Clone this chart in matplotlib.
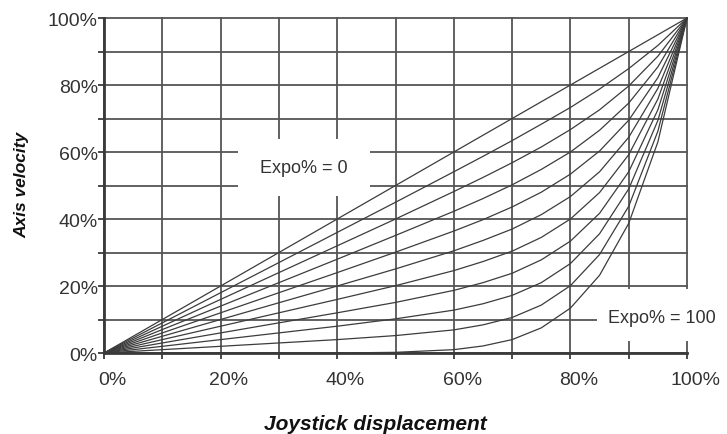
import matplotlib
matplotlib.use('Agg')
import matplotlib.pyplot as plt
import matplotlib.transforms as mtransforms
from matplotlib.patches import Rectangle


# Joystick displacement (%) where each curve was read
displacement = [0, 10, 20, 30, 40, 50, 60, 65, 70, 75, 80, 85, 90, 95, 100]

# Axis velocity (%) for each expo setting
expo_0 = [0, 10, 20, 30, 40, 50, 60, 65, 70, 75, 80, 85, 90, 95, 100]
expo_10 = [0, 9, 18, 27, 36, 45.0, 54.1, 58.7, 63.4, 68.3, 73.3, 78.8, 84.9, 91.8, 100]
expo_20 = [0, 8, 16, 24, 32, 40.0, 48.2, 52.4, 56.8, 61.5, 66.7, 72.6, 79.7, 88.6, 100]
expo_30 = [0, 7, 14, 21, 28, 35.1, 42.3, 46.1, 50.2, 54.8, 60.0, 66.5, 74.6, 85.4, 100]
expo_40 = [0, 6, 12, 18, 24, 30.1, 36.4, 39.8, 43.6, 48.0, 53.4, 60.3, 69.5, 82.2, 100]
expo_50 = [0, 5, 10, 15, 20, 25.1, 30.5, 33.6, 37.0, 41.3, 46.7, 54.1, 64.4, 79.0, 100]
expo_60 = [0, 4, 8, 12, 16, 20.1, 24.6, 27.3, 30.4, 34.5, 40.0, 47.9, 59.2, 75.8, 100]
expo_70 = [0, 3, 6, 9, 12, 15.1, 18.7, 21.0, 23.8, 27.8, 33.4, 41.7, 54.1, 72.6, 100]
expo_80 = [0, 2, 4, 6, 8, 10.2, 12.8, 14.7, 17.2, 21.0, 26.7, 35.6, 49.0, 69.4, 100]
expo_90 = [0, 1, 2, 3, 4, 5.2, 6.9, 8.4, 10.6, 14.3, 20.1, 29.4, 43.8, 66.2, 100]
expo_100 = [0, 0, 0, 0, 0, 0.2, 1.0, 2.1, 4.0, 7.5, 13.4, 23.2, 38.7, 63.0, 100]

curves = [expo_0, expo_10, expo_20, expo_30, expo_40, expo_50,
          expo_60, expo_70, expo_80, expo_90, expo_100]

grid_levels = list(range(0, 101, 10))
tick_labels = ['0%', '', '20%', '', '40%', '', '60%', '', '80%', '', '100%']

GRID_COLOR = '#555555'
CURVE_COLOR = '#3c3c3c'
TEXT_COLOR = '#333333'


def plot(out_path='out.png'):
    plt.rcParams['font.family'] = ['Liberation Sans', 'DejaVu Sans']

    fig = plt.figure(figsize=(7.27, 4.35), dpi=100)
    ax = fig.add_axes([0.1431, 0.1862, 0.945 - 0.1431, 0.9563 - 0.1862])
    ax.set_xlim(0, 100)
    ax.set_ylim(0, 100)

    # grid drawn by hand so the 100% lines show up as the frame
    for v in grid_levels:
        ax.axvline(v, color=GRID_COLOR, lw=1.3, zorder=1, clip_on=False)
        ax.axhline(v, color=GRID_COLOR, lw=1.3, zorder=1, clip_on=False)

    # white patches behind the two annotations
    ax.add_patch(Rectangle((23.0, 46.9), 22.6, 17.0, facecolor='white',
                           edgecolor='none', zorder=2))
    ax.add_patch(Rectangle((84.5, 3.6), 25.0, 15.4, facecolor='white',
                           edgecolor='none', zorder=2, clip_on=False))

    for ys in curves:
        ax.plot(displacement, ys, color=CURVE_COLOR, lw=0.9, zorder=3,
                clip_on=False)

    ax.text(34.2, 55.5, 'Expo% = 0', fontsize=13, color=TEXT_COLOR,
            ha='center', va='center', zorder=4)
    ax.text(86.5, 10.7, 'Expo% = 100', fontsize=13, color=TEXT_COLOR,
            ha='left', va='center', zorder=4, clip_on=False)

    for side in ['top', 'right']:
        ax.spines[side].set_visible(False)
    for side in ['left', 'bottom']:
        ax.spines[side].set_linewidth(2.0)
        ax.spines[side].set_color('#3a3a3a')
        ax.spines[side].set_zorder(5)

    ax.set_xticks(grid_levels)
    ax.set_xticklabels(tick_labels)
    ax.set_yticks(grid_levels)
    ax.set_yticklabels(tick_labels)
    ax.tick_params(axis='both', direction='out', length=4, width=1.3,
                   color='#3a3a3a', labelsize=14, labelcolor=TEXT_COLOR)
    ax.tick_params(axis='y', pad=0.5)
    ax.tick_params(axis='x', pad=9)

    # x labels sit a bit right of their ticks in the original
    shift = mtransforms.ScaledTranslation(6 / 72, 0, fig.dpi_scale_trans)
    for lbl in ax.get_xticklabels():
        lbl.set_transform(lbl.get_transform() + shift)

    fig.text(0.517, 0.023, 'Joystick displacement', fontsize=15,
             fontweight='bold', fontstyle='italic', color='#111111',
             ha='center', va='center')
    fig.text(0.030, 0.575, 'Axis velocity', fontsize=12.5,
             fontweight='bold', fontstyle='italic', color='#111111',
             ha='center', va='center', rotation=90)

    fig.savefig(out_path, dpi=100, facecolor='white')


def main():
    plot('out.png')


if __name__ == '__main__':
    main()
